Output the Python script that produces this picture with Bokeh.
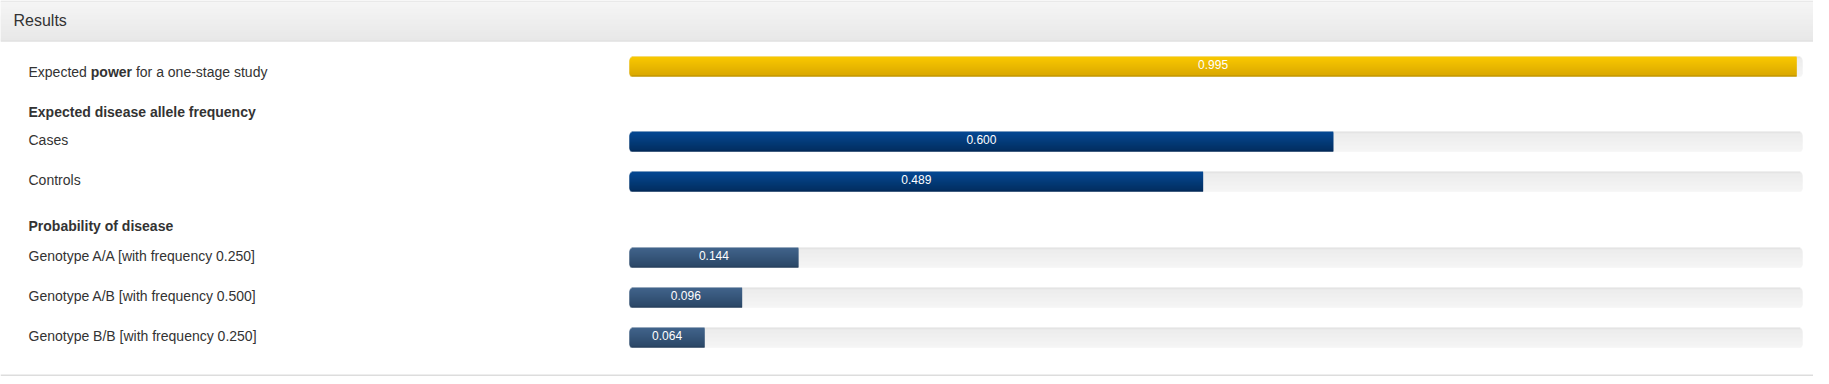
from bokeh.plotting import figure
from bokeh.models import Range1d, BoxAnnotation, ColumnDataSource
from bokeh.core.properties import value
from bokeh.embed import file_html
from bokeh.resources import INLINE
import math

# ---------------- data ----------------
panel_title = "Results"
power_label_parts = ["Expected", "power", "for a one-stage study"]
power_values = [0.995]

allele_heading = "Expected disease allele frequency"
allele_categories = ["Cases", "Controls"]
allele_values = [0.600, 0.489]

genotype_heading = "Probability of disease"
genotype_categories = [
    "Genotype A/A [with frequency 0.250]",
    "Genotype A/B [with frequency 0.500]",
    "Genotype B/B [with frequency 0.250]",
]
genotype_values = [0.144, 0.096, 0.064]
scale_max = 1.0

# ---------------- layout (pixels of the picture) ----------------
W, H = 1813, 376
PX0, PX_PER = 629.0, 1173.0          # pixel where value 0 sits, pixels per unit
TDY = -5.5                           # baseline correction for svg text (values)
LDY = -6.5                           # baseline correction for svg text (labels)


def sx(px):
    return (px - PX0) / PX_PER


p = figure(width=W, height=H, output_backend="svg", toolbar_location=None,
           x_range=Range1d(sx(0), sx(W)), y_range=Range1d(H, 0),
           min_border=0, min_border_left=0, min_border_right=0,
           min_border_top=0, min_border_bottom=0,
           background_fill_color="white", border_fill_color="white")
p.axis.visible = False
p.xgrid.visible = False
p.ygrid.visible = False
p.outline_line_color = None


def hx(c):
    c = c.lstrip("#")
    return [int(c[i:i + 2], 16) for i in (0, 2, 4)]


def mix(c1, c2, t):
    a, b = hx(c1), hx(c2)
    return "#%02x%02x%02x" % tuple(round(a[i] + (b[i] - a[i]) * t) for i in range(3))


def darken(c, f):
    a = hx(c)
    return "#%02x%02x%02x" % tuple(round(v * (1 - f)) for v in a)


# panel: top border, heading gradient, bottom border
p.add_layout(BoxAnnotation(top=0, bottom=2, fill_color="#dddddd", fill_alpha=1.0,
                           line_color=None, level="underlay"))
for yy in range(1, 40):
    t = (yy - 1) / 38.0
    p.add_layout(BoxAnnotation(top=yy, bottom=yy + 2, fill_color=mix("#f5f5f5", "#e8e8e8", t),
                               fill_alpha=1.0, line_color=None, level="underlay"))
p.add_layout(BoxAnnotation(top=40, bottom=41, fill_color="#dddddd", fill_alpha=1.0,
                           line_color=None, level="underlay"))
p.add_layout(BoxAnnotation(top=374, bottom=376, fill_color="#dddddd", fill_alpha=1.0,
                           line_color=None, level="underlay"))

BAR_H = 20
R = 4.0


def inset(k):
    if k < R:
        dy = R - (k + 0.5)
    elif k >= BAR_H - R:
        dy = (k + 0.5) - (BAR_H - R)
    else:
        return 0.0
    return R - math.sqrt(max(R * R - dy * dy, 0))


track = dict(y=[], h=[], left=[], right=[], color=[])
fill = dict(y=[], h=[], left=[], right=[], color=[])


def add_bar(top, val, c_top, c_bot):
    for k in range(BAR_H):
        ins = inset(k) / PX_PER
        t = k / (BAR_H - 1)
        hh = 2.0 if k < BAR_H - 1 else 1.0
        yc = top + k + hh / 2
        if k == 0:
            tc = "#e0e0e0"
        elif k == 1:
            tc = "#e8e8e8"
        else:
            tc = mix("#ebebeb", "#f5f5f5", t)
        track["y"].append(yc)
        track["h"].append(hh)
        track["left"].append(0 + ins)
        track["right"].append(scale_max - ins)
        track["color"].append(tc)
        fc = mix(c_top, c_bot, t)
        if k == BAR_H - 1:
            fc = darken(fc, 0.15)
        fill["y"].append(yc)
        fill["h"].append(hh)
        fill["left"].append(0 + ins)
        fill["right"].append(max(val, ins))
        fill["color"].append(fc)


YELLOW = ("#f9c800", "#d9a700")
BLUE = ("#054893", "#022e60")
SLATE = ("#41648b", "#2b4767")

power_top = [56]
allele_tops = [131, 171]
genotype_tops = [247, 287, 327]

bars = []
for v, tp in zip(power_values, power_top):
    add_bar(tp, v, *YELLOW)
    bars.append((tp, v))
for v, tp in zip(allele_values, allele_tops):
    add_bar(tp, v, *BLUE)
    bars.append((tp, v))
for v, tp in zip(genotype_values, genotype_tops):
    add_bar(tp, v, *SLATE)
    bars.append((tp, v))

p.hbar(y="y", left="left", right="right", height="h", fill_color="color", fill_alpha=1.0,
       line_color=None, source=ColumnDataSource(track))
p.hbar(y="y", left="left", right="right", height="h", fill_color="color", fill_alpha=1.0,
       line_color=None, source=ColumnDataSource(fill))

FONT = value("Liberation Sans")

# value labels inside bars
vsrc = ColumnDataSource(dict(
    x=[v / 2 for _, v in bars],
    y=[tp + BAR_H / 2 + 3.6 + TDY for tp, _ in bars],
    t=["%.3f" % v for _, v in bars],
))
p.text(x="x", y="y", text="t", source=vsrc, text_font=FONT,
       text_font_size="12px", text_color="white", text_align="center",
       text_baseline="alphabetic")

LX = sx(28)

# panel title
p.text(x=[sx(13)], y=[26 + LDY + 0.5], text=[panel_title], text_font=FONT, text_font_size="16px",
       text_color="#333333", text_baseline="alphabetic")

# power label (mixed weight)
offsets = [0, 62.3, 107.4]
styles = ["normal", "bold", "normal"]
for part, off, st in zip(power_label_parts, offsets, styles):
    p.text(x=[LX], y=[77.5 + LDY], text=[part], x_offset=off, text_font=FONT,
           text_font_size="14px", text_font_style=st, text_color="#333333",
           text_baseline="alphabetic")

# section headings
p.text(x=[LX, LX], y=[117.7 + LDY, 231.7 + LDY], text=[allele_heading, genotype_heading],
       text_font=FONT, text_font_size="14px", text_font_style="bold",
       text_color="#333333", text_baseline="alphabetic")

# row labels
row_labels = allele_categories + genotype_categories
row_tops = allele_tops + genotype_tops
p.text(x=[LX] * len(row_labels), y=[tp + BAR_H / 2 + 4.6 + LDY for tp in row_tops],
       text=row_labels, text_font=FONT, text_font_size="14px",
       text_color="#333333", text_baseline="alphabetic")

open("out.html", "w").write(file_html(p, INLINE))
